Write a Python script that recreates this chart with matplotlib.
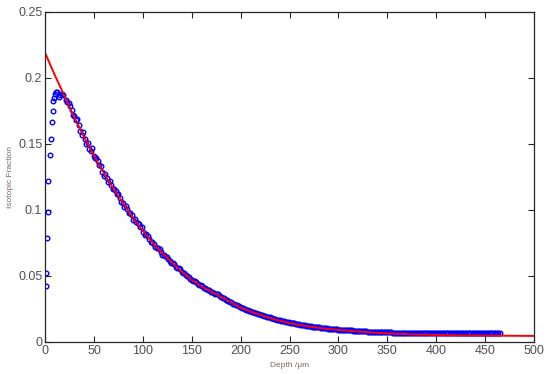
import matplotlib
matplotlib.use("Agg")
import matplotlib.pyplot as plt

plt.rcParams['font.family'] = ['Liberation Sans', 'DejaVu Sans']

# fitted profile (red line)
fit_depth = [0, 10, 20, 30, 40, 50, 60, 70, 80, 90, 100, 110, 120, 130, 140, 150,
             160, 170, 180, 190, 200, 210, 220, 230, 240, 250, 260, 270, 280, 290,
             300, 320, 340, 360, 380, 400, 420, 450, 500]
fit_frac = [0.219, 0.202, 0.186, 0.170, 0.155, 0.141, 0.128, 0.116, 0.105, 0.094,
            0.084, 0.075, 0.067, 0.060, 0.053, 0.047, 0.042, 0.038, 0.034, 0.030,
            0.026, 0.023, 0.0205, 0.018, 0.016, 0.0142, 0.0128, 0.0116, 0.0106, 0.0097,
            0.0090, 0.0078, 0.0068, 0.0061, 0.0056, 0.0052, 0.0049, 0.0047, 0.0045]

# measured points (blue circles)
depth = [0.7, 1.3, 1.7, 2.7, 3.4, 5.1, 5.8, 6.8, 7.8, 8.5, 9.6, 10.2, 11.3, 12.6,
         14.0, 15.3, 17.4, 18.7,
         21, 24, 27, 30, 33, 36, 39, 42, 45, 48, 51, 54, 57, 60, 63, 66, 69, 72,
         75, 78, 81, 84, 87, 90, 93, 96, 99, 102, 105, 108, 111, 114, 117, 120,
         123, 126, 129, 132, 135, 138, 141, 144, 147, 150, 153, 156, 159, 162,
         165, 168, 171, 174, 177, 180, 183, 186, 189, 192, 195, 198, 201, 204,
         207, 210, 213, 216, 219, 222, 225, 228, 231, 234, 237, 240, 243, 246,
         249, 252, 255, 258, 261, 264, 267, 270, 273, 276, 279, 282, 285, 288,
         291, 294, 297, 300, 303, 306, 309, 312, 315, 318, 321, 324, 327, 330,
         333, 336, 339, 342, 345, 348, 351, 354, 357, 360, 363, 366, 369, 372,
         375, 378, 381, 384, 387, 390, 393, 396, 399, 402, 405, 408, 411, 414,
         417, 420, 423, 426, 429, 432, 435, 438, 441, 444, 447, 450, 453, 456,
         459, 462, 465]
frac = [0.0424, 0.0525, 0.079, 0.0987, 0.122, 0.1417, 0.154, 0.1667, 0.175, 0.1826,
        0.185, 0.188, 0.1891, 0.189, 0.1857, 0.187, 0.188, 0.187,
        0.183, 0.181, 0.176, 0.171, 0.169, 0.160, 0.159, 0.150, 0.146, 0.147,
        0.139, 0.137, 0.133, 0.126, 0.124, 0.122, 0.116, 0.114, 0.112, 0.106,
        0.102, 0.101, 0.098, 0.092, 0.091, 0.089, 0.087, 0.081, 0.080, 0.076,
        0.074, 0.071, 0.070, 0.066, 0.065, 0.063, 0.060, 0.059, 0.056, 0.055,
        0.052, 0.051, 0.049, 0.047, 0.046, 0.044, 0.043, 0.041, 0.040, 0.039,
        0.038, 0.036, 0.036, 0.034, 0.033, 0.032, 0.030, 0.029, 0.028, 0.027,
        0.026, 0.025, 0.024, 0.023, 0.0225, 0.0215, 0.0210, 0.0203, 0.0195,
        0.0188, 0.0180, 0.0176, 0.0168, 0.0162, 0.0158, 0.0153, 0.0148, 0.0142,
        0.0139, 0.0134, 0.0130, 0.0126, 0.0122, 0.0119, 0.0116, 0.0113, 0.0110,
        0.0107, 0.0104, 0.0102, 0.0099, 0.0097, 0.0095, 0.0093, 0.0091, 0.0089,
        0.0088, 0.0087, 0.0085, 0.0083, 0.0082, 0.0080, 0.0079, 0.0078, 0.0077,
        0.0076, 0.0075, 0.0074, 0.0073, 0.0072, 0.0072, 0.0071, 0.0070, 0.0070,
        0.0069, 0.0069, 0.0067, 0.0066, 0.0065, 0.0065, 0.0066, 0.0067, 0.0066,
        0.0065, 0.0066, 0.0067, 0.0066, 0.0067, 0.0068, 0.0065, 0.0066, 0.0064,
        0.0067, 0.0066, 0.0065, 0.0068, 0.0066, 0.0064, 0.0067, 0.0065, 0.0066,
        0.0068, 0.0065, 0.0064, 0.0066, 0.0067, 0.0065, 0.0066, 0.0065]

# points in between (the profile was sampled more densely)
depth2 = [22.5, 25.5, 28.5, 31.5, 34.5, 37.5, 40.5, 43.5, 46.5, 49.5,
          52.5, 55.5, 58.5, 61.5, 64.5, 67.5, 70.5, 73.5, 76.5, 79.5,
          82.5, 85.5, 88.5, 91.5, 94.5, 97.5, 100.5, 103.5, 106.5, 109.5,
          112.5, 115.5, 118.5, 121.5, 124.5, 127.5, 130.5, 133.5, 136.5, 139.5,
          142.5, 145.5, 148.5, 151.5, 154.5, 157.5, 160.5, 163.5, 166.5, 169.5,
          172.5, 175.5, 178.5, 181.5, 184.5, 187.5, 190.5, 193.5, 196.5, 199.5,
          202.5, 205.5, 208.5, 211.5, 214.5, 217.5, 220.5, 223.5, 226.5, 229.5,
          232.5, 235.5, 238.5, 241.5, 244.5, 247.5, 250.5, 253.5, 256.5, 259.5,
          262.5, 265.5, 268.5, 271.5, 274.5, 277.5, 280.5, 283.5, 286.5, 289.5,
          292.5, 295.5, 298.5, 301.5, 304.5, 307.5, 310.5, 313.5, 316.5, 319.5,
          322.5, 325.5, 328.5, 331.5, 334.5, 337.5, 340.5, 343.5, 346.5, 349.5,
          352.5, 355.5, 358.5, 361.5, 364.5, 367.5, 370.5, 373.5, 376.5, 379.5,
          382.5, 385.5, 388.5, 391.5, 394.5, 397.5, 400.5, 403.5, 406.5, 409.5,
          412.5, 415.5, 418.5, 421.5, 424.5, 427.5, 430.5, 433.5, 436.5, 439.5,
          442.5, 445.5, 448.5, 451.5, 454.5, 457.5, 460.5, 463.5]
frac2 = [0.182, 0.179, 0.172, 0.168, 0.164, 0.157, 0.154, 0.151, 0.145, 0.141,
         0.139, 0.134, 0.129, 0.127, 0.121, 0.119, 0.116, 0.112, 0.109, 0.105,
         0.103, 0.098, 0.096, 0.093, 0.090, 0.087, 0.083, 0.082, 0.078, 0.076,
         0.072, 0.071, 0.068, 0.066, 0.064, 0.061, 0.060, 0.057, 0.056, 0.053,
         0.052, 0.050, 0.048, 0.046, 0.045, 0.043, 0.042, 0.041, 0.039, 0.038,
         0.037, 0.036, 0.035, 0.033, 0.032, 0.031, 0.030, 0.029, 0.0278, 0.0265,
         0.0255, 0.0245, 0.0236, 0.0228, 0.0220, 0.0212, 0.0206, 0.0198, 0.0191, 0.0185,
         0.0178, 0.0172, 0.0166, 0.0160, 0.0156, 0.0151, 0.0146, 0.0141, 0.0137, 0.0132,
         0.0128, 0.0124, 0.0121, 0.0118, 0.0114, 0.0112, 0.0109, 0.0106, 0.0103, 0.0101,
         0.0098, 0.0096, 0.0094, 0.0092, 0.0090, 0.0089, 0.0087, 0.0086, 0.0084, 0.0083,
         0.0081, 0.0080, 0.0079, 0.0077, 0.0076, 0.0075, 0.0074, 0.0073, 0.0073, 0.0072,
         0.0071, 0.0070, 0.0069, 0.0070, 0.0068, 0.0067, 0.0068, 0.0066, 0.0064, 0.0066,
         0.0065, 0.0067, 0.0066, 0.0064, 0.0066, 0.0068, 0.0065, 0.0066, 0.0067, 0.0065,
         0.0066, 0.0064, 0.0067, 0.0066, 0.0065, 0.0067, 0.0066, 0.0064, 0.0065, 0.0067,
         0.0066, 0.0065, 0.0066, 0.0068, 0.0065, 0.0066, 0.0064, 0.0066]

fig = plt.figure(figsize=(5.5, 3.74), dpi=100)
ax = fig.add_axes([0.082, 0.086, 0.889, 0.882])

mk = dict(ls='none', marker='o', mfc='none', mec='#0000ff', mew=1.0, ms=3.3)
ax.plot(depth, frac, **mk)
ax.plot(depth2, frac2, **mk)
ax.plot(fit_depth, fit_frac, '-', color='#ff0000', lw=1.4)

ax.set_xlim(0, 500)
ax.set_ylim(0, 0.25)
ax.set_xticks([0, 50, 100, 150, 200, 250, 300, 350, 400, 450, 500])
ax.set_yticks([0, 0.05, 0.1, 0.15, 0.2, 0.25])
ax.set_yticklabels(['0', '0.05', '0.1', '0.15', '0.2', '0.25'])
ax.tick_params(direction='in', top=True, right=True, length=4, width=0.8,
               labelsize=9, labelcolor='#505050', color='#262626', pad=2)
for s in ax.spines.values():
    s.set_color('#262626')
    s.set_linewidth(0.9)

ax.set_xlabel('Depth /μm', fontsize=6, color='#7a6a60', labelpad=4)
ax.set_ylabel('Isotopic Fraction', fontsize=6, color='#7a6a60', labelpad=3)

fig.savefig('out.png', dpi=100)
